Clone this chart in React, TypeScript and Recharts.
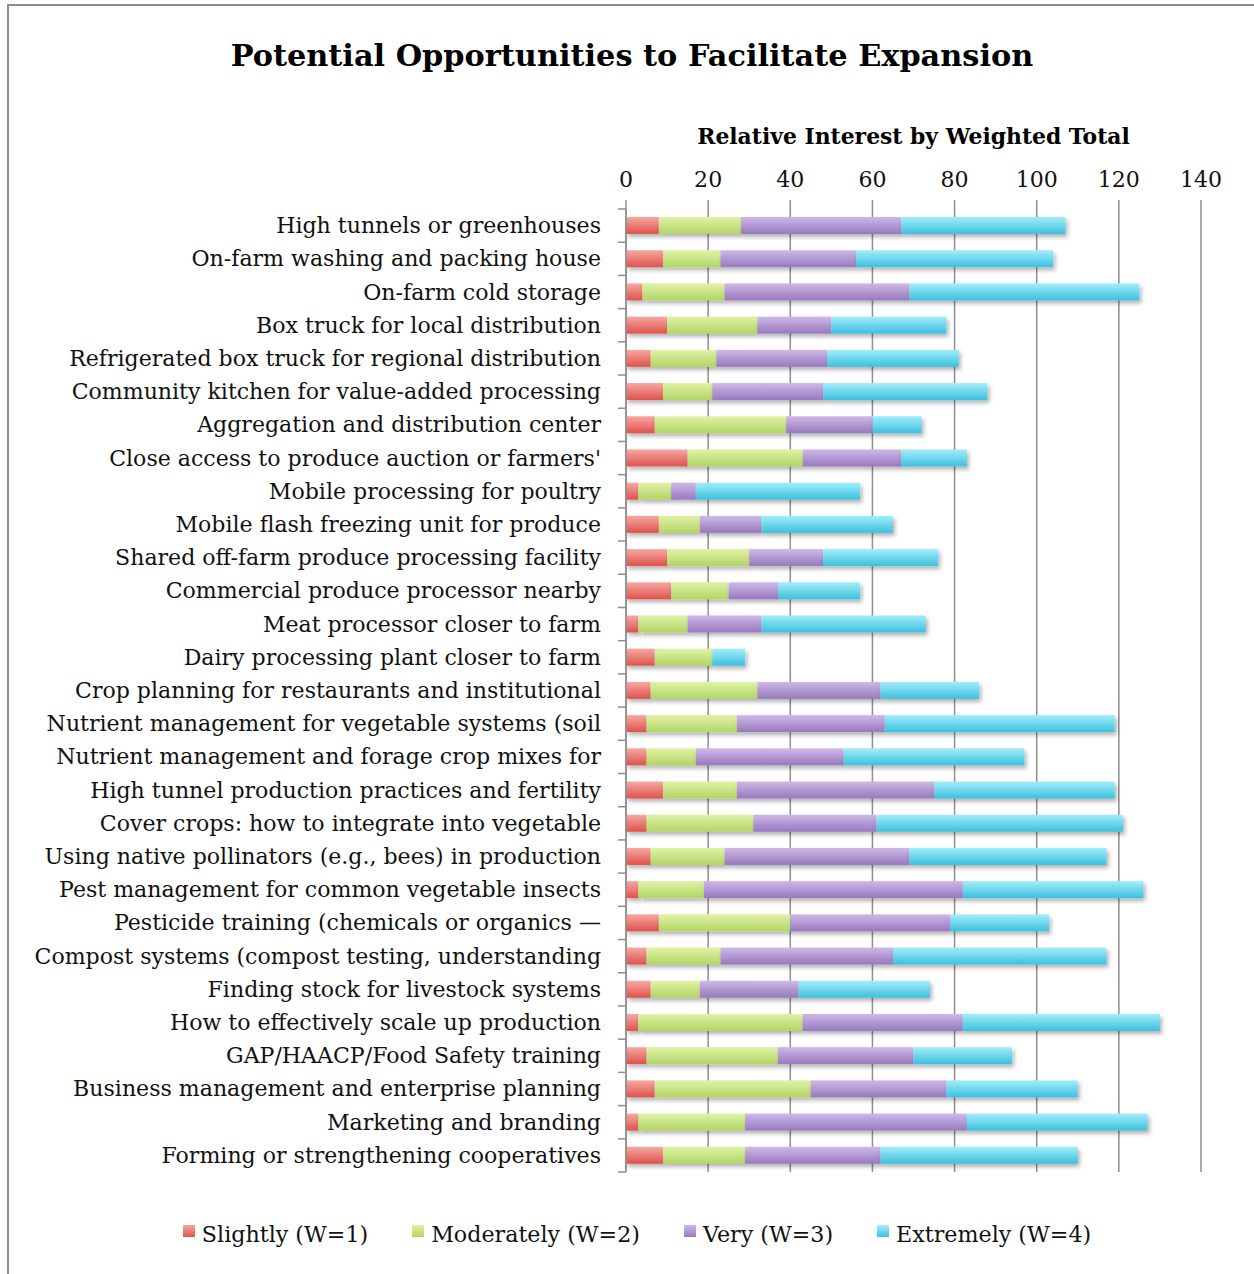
import React from "react";
import { BarChart, Bar, XAxis, YAxis, CartesianGrid } from "recharts";

const categories = [
  "High tunnels or greenhouses",
  "On-farm washing and packing house",
  "On-farm cold storage",
  "Box truck for local distribution",
  "Refrigerated box truck for regional distribution",
  "Community kitchen for value-added processing",
  "Aggregation and distribution center",
  "Close access to produce auction or farmers'",
  "Mobile processing for poultry",
  "Mobile flash freezing unit for produce",
  "Shared off-farm produce processing facility",
  "Commercial produce processor nearby",
  "Meat processor closer to farm",
  "Dairy processing plant closer to farm",
  "Crop planning for restaurants and institutional",
  "Nutrient management for vegetable systems (soil",
  "Nutrient management and forage crop mixes for",
  "High tunnel production practices and fertility",
  "Cover crops: how to integrate into vegetable",
  "Using native pollinators (e.g., bees) in production",
  "Pest management for common vegetable insects",
  "Pesticide training (chemicals or organics \u2014",
  "Compost systems (compost testing, understanding",
  "Finding stock for livestock systems",
  "How to effectively scale up production",
  "GAP/HAACP/Food Safety training",
  "Business management and enterprise planning",
  "Marketing and branding",
  "Forming or strengthening cooperatives",
];

const slightly = [8, 9, 4, 10, 6, 9, 7, 15, 3, 8, 10, 11, 3, 7, 6, 5, 5, 9, 5, 6, 3, 8, 5, 6, 3, 5, 7, 3, 9];
const moderately = [20, 14, 20, 22, 16, 12, 32, 28, 8, 10, 20, 14, 12, 14, 26, 22, 12, 18, 26, 18, 16, 32, 18, 12, 40, 32, 38, 26, 20];
const very = [39, 33, 45, 18, 27, 27, 21, 24, 6, 15, 18, 12, 18, 0, 30, 36, 36, 48, 30, 45, 63, 39, 42, 24, 39, 33, 33, 54, 33];
const extremely = [40, 48, 56, 28, 32, 40, 12, 16, 40, 32, 28, 20, 40, 8, 24, 56, 44, 44, 60, 48, 44, 24, 52, 32, 48, 24, 32, 44, 48];

const xTicks = [0, 20, 40, 60, 80, 100, 120, 140];

const seriesNames = ["Slightly (W=1)", "Moderately (W=2)", "Very (W=3)", "Extremely (W=4)"];
const seriesKeys = ["slightly", "moderately", "very", "extremely"];
const gradTop = ["#f6a8a3", "#e0f2a6", "#cfb8e8", "#a2edfb"];
const gradBottom = ["#df524c", "#b3d466", "#9779bd", "#3dc0de"];

const titleText = "Potential Opportunities to Facilitate Expansion";
const subtitleText = "Relative Interest by Weighted Total";

const data = categories.map((name, i) => ({
  name,
  slightly: slightly[i],
  moderately: moderately[i],
  very: very[i],
  extremely: extremely[i],
}));

const FAMILY = '"DejaVu Serif", "Liberation Serif", serif';

function fitSize(text: string, weight: string, target: number, fallback: number) {
  try {
    const ctx = document.createElement("canvas").getContext("2d");
    if (!ctx) return fallback;
    ctx.font = `${weight} 100px ${FAMILY}`;
    const w = ctx.measureText(text).width;
    if (!w) return fallback;
    return (target / w) * 100;
  } catch (e) {
    return fallback;
  }
}

const W = 1254;
const H = 1274;
const PLOT_TOP = 209;
const PLOT_BOTTOM = 1172;
const AXIS_X = 626;
const GRID = "#8f8f8f";

export default function App() {
  const labelSize = fitSize("High tunnels or greenhouses", "normal", 325, 20);
  const titleSize = fitSize(titleText, "bold", 803, 30);
  const subSize = fitSize(subtitleText, "bold", 433, 22);
  const legendSize = fitSize("Moderately (W=2)", "normal", 209, 20);
  const band = (PLOT_BOTTOM - PLOT_TOP) / categories.length;

  const CatTick = (props: any) => {
    const { x, y, payload, index } = props;
    return (
      <g>
        <text
          x={x}
          y={y}
          textAnchor="end"
          dominantBaseline="central"
          fontFamily={FAMILY}
          fontSize={labelSize}
          fill="#111"
        >
          {payload.value}
        </text>
        <line x1={AXIS_X - 8} x2={AXIS_X} y1={y - band / 2} y2={y - band / 2} stroke={GRID} strokeWidth={1.5} />
        {index === categories.length - 1 ? (
          <line x1={AXIS_X - 8} x2={AXIS_X} y1={y + band / 2} y2={y + band / 2} stroke={GRID} strokeWidth={1.5} />
        ) : null}
      </g>
    );
  };

  const makeShape = (i: number) => (props: any) => {
    const { x, y, width, height } = props;
    if (!width || width <= 0) return <g />;
    return (
      <rect
        x={x}
        y={y}
        width={width}
        height={height}
        fill={`url(#grad${i})`}
        filter="url(#barShadow)"
      />
    );
  };

  return (
    <div style={{ position: "absolute", left: 0, top: 0, width: W, height: H, background: "#fff", overflow: "hidden" }}>
      <svg width={0} height={0} style={{ position: "absolute" }}>
        <defs>
          {gradTop.map((c, i) => (
            <linearGradient key={i} id={`grad${i}`} x1="0" y1="0" x2="0" y2="1">
              <stop offset="0%" stopColor={c} />
              <stop offset="100%" stopColor={gradBottom[i]} />
            </linearGradient>
          ))}
          <filter id="barShadow" x="-10%" y="-30%" width="130%" height="190%">
            <feDropShadow dx="2" dy="3" stdDeviation="2" floodColor="#000" floodOpacity="0.3" />
          </filter>
        </defs>
      </svg>
      <div
        style={{
          position: "absolute",
          left: 7,
          top: 4,
          width: W,
          height: H,
          borderLeft: "2px solid #8c8c8c",
          borderTop: "2px solid #8c8c8c",
        }}
      />
      <div
        style={{
          position: "absolute",
          left: 0,
          width: 1264,
          top: 56 - titleSize * 0.62,
          textAlign: "center",
          fontFamily: FAMILY,
          fontWeight: "bold",
          fontSize: titleSize,
          lineHeight: `${titleSize * 1.24}px`,
          color: "#000",
        }}
      >
        {titleText}
      </div>
      <div
        style={{
          position: "absolute",
          left: 697 - 200,
          width: 433 + 400,
          top: 137 - subSize * 0.62,
          textAlign: "center",
          fontFamily: FAMILY,
          fontWeight: "bold",
          fontSize: subSize,
          lineHeight: `${subSize * 1.24}px`,
          color: "#000",
        }}
      >
        {subtitleText}
      </div>
      <div style={{ position: "absolute", left: 0, top: 0 }}>
        <BarChart
          width={W}
          height={H}
          data={data}
          layout="vertical"
          margin={{ top: PLOT_TOP - 30, right: W - 1201, bottom: H - PLOT_BOTTOM, left: 0 }}
          barSize={17}
        >
          <CartesianGrid horizontal={false} vertical={true} stroke={GRID} strokeWidth={1.5} />
          <XAxis
            type="number"
            orientation="top"
            domain={[0, 140]}
            ticks={xTicks}
            height={30}
            axisLine={false}
            tickLine={{ stroke: GRID, strokeWidth: 1.5 }}
            tickSize={9}
            tickMargin={13}
            tick={{ fontFamily: FAMILY, fontSize: labelSize, fill: "#111" }}
            interval={0}
          />
          <YAxis
            type="category"
            dataKey="name"
            width={AXIS_X}
            axisLine={{ stroke: GRID, strokeWidth: 1.5 }}
            tickLine={false}
            tickSize={8}
            tickMargin={17}
            tick={<CatTick />}
            interval={0}
          />
          {seriesKeys.map((k, i) => (
            <Bar
              key={k}
              dataKey={k}
              name={seriesNames[i]}
              stackId="a"
              fill={gradBottom[i]}
              shape={makeShape(i)}
              isAnimationActive={false}
            />
          ))}
        </BarChart>
      </div>
      <div
        style={{
          position: "absolute",
          left: 0,
          width: 1274,
          top: 1234 - 16,
          height: 32,
          display: "flex",
          justifyContent: "center",
          alignItems: "center",
          gap: 44,
          fontFamily: FAMILY,
          fontSize: legendSize,
          color: "#111",
        }}
      >
        {seriesNames.map((n, i) => (
          <div key={n} style={{ display: "flex", alignItems: "center" }}>
            <span
              style={{
                display: "inline-block",
                width: 12,
                height: 12,
                marginRight: 7,
                background: `linear-gradient(${gradTop[i]}, ${gradBottom[i]})`,
                position: "relative",
                top: -3,
              }}
            />
            <span>{n}</span>
          </div>
        ))}
      </div>
    </div>
  );
}
